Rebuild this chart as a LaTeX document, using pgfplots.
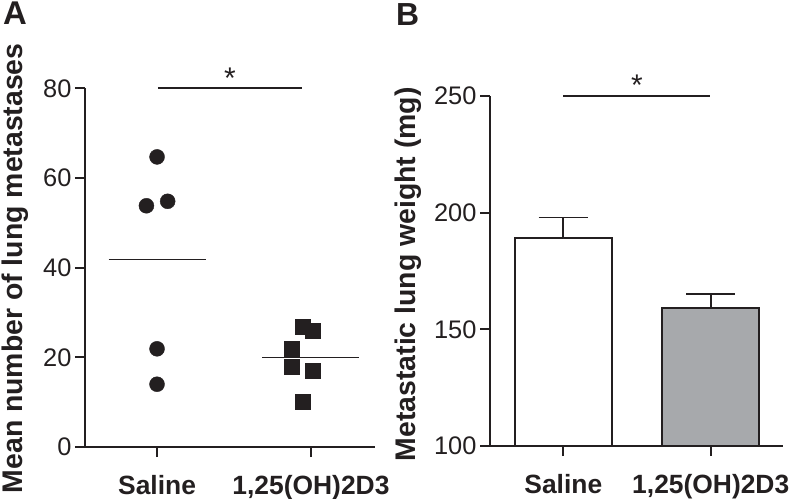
\documentclass[border=0pt]{standalone}
\usepackage{fontspec}
\setmainfont{Liberation Sans}
\usepackage{pgfplots}
\pgfplotsset{compat=1.18}
\definecolor{ink}{HTML}{231F20}
\definecolor{bargray}{HTML}{A7A9AC}
\pgfplotsset{
 common/.style={
  scale only axis, axis lines=left, axis line style={-, line width=1.8bp, draw=ink},
  tick align=outside, major tick length=10bp, tick style={line width=1.8bp, draw=ink},
  /pgf/number format/assume math mode=true,
  yticklabel style={font=\fontsize{25.5}{25.5}\selectfont, text=ink},
  xticklabel style={font=\bfseries\fontsize{26.5}{26.5}\selectfont, text=ink, yshift=-15bp},
  ylabel style={font=\bfseries\fontsize{28.5}{28.5}\selectfont, text=ink, anchor=base, inner sep=0pt},
  xtick={1,2}, xticklabels={Saline,{1,25(OH)2D3}},
 }
}
\begin{document}
\begin{tikzpicture}
\path[use as bounding box] (0bp,0bp) rectangle (800bp,499bp);
\node[font=\bfseries\fontsize{33}{33}\selectfont, text=ink, anchor=north west, inner sep=0pt] at (3bp,497bp) {A};
\node[font=\bfseries\fontsize{32}{32}\selectfont, text=ink, anchor=north west, inner sep=0pt] at (396bp,496bp) {B};
\begin{axis}[common, at={(85bp,52bp)}, anchor=south west,
  width=290bp, height=358.7bp,
  xmin=0.532, xmax=2.416, ymin=0, ymax=80, ytick={0,20,40,60,80},
  clip=false,
  ylabel={Mean number of lung metastases},
  ylabel style={at={(axis description cs:-0.214,0.498)}}]
\addplot[only marks, mark=*, mark size=7.5bp, ink] coordinates {
 (1,64.7) (0.931,53.8) (1.069,54.8) (1,21.9) (1,14.0)};
\addplot[only marks, mark=square*, mark size=7.5bp, ink] coordinates {
 (1.944,26.9) (2.011,25.9) (1.875,22.0) (1.875,18.0) (2.011,17.1) (1.944,10.0)};
\addplot[line width=1.5bp, ink] coordinates {(0.685,41.84) (1.315,41.84)};
\addplot[line width=1.5bp, ink] coordinates {(1.685,19.98) (2.315,19.98)};
\addplot[line width=1.8bp, ink] coordinates {(1.006,80) (1.94,80)};
\node[font=\fontsize{30}{30}\selectfont, text=ink, anchor=base, inner sep=0pt] at (axis cs:1.473,80) {*};
\end{axis}
\begin{axis}[common, at={(490bp,53bp)}, anchor=south west,
  width=293bp, height=350bp,
  xmin=0.503, xmax=2.49, ymin=100, ymax=250, ytick={100,150,200,250},
  clip mode=individual,
  ylabel={Metastatic lung weight (mg)},
  ylabel style={at={(axis description cs:-0.253,0.491)}}]
\addplot[ybar, bar shift=0pt, bar width=0.658, fill=white, draw=ink, line width=1.8bp,
  error bars/.cd, y dir=plus, y explicit,
  error bar style={line width=1.8bp, draw=ink},
  error mark options={rotate=90, line width=1.8bp, mark size=24.7bp, draw=ink}]
  coordinates {(1,189) +- (0,8.9)};
\addplot[ybar, bar shift=0pt, bar width=0.658, fill=bargray, draw=ink, line width=1.8bp,
  error bars/.cd, y dir=plus, y explicit,
  error bar style={line width=1.8bp, draw=ink},
  error mark options={rotate=90, line width=1.8bp, mark size=24.7bp, draw=ink}]
  coordinates {(2,159.3) +- (0,5.7)};
\draw[line width=1.8bp, ink] (axis cs:1.0,250) -- (axis cs:1.995,250);
\node[font=\fontsize{30}{30}\selectfont, text=ink, anchor=base, inner sep=0pt] at (axis cs:1.5,250) {*};
\end{axis}
\end{tikzpicture}
\end{document}
